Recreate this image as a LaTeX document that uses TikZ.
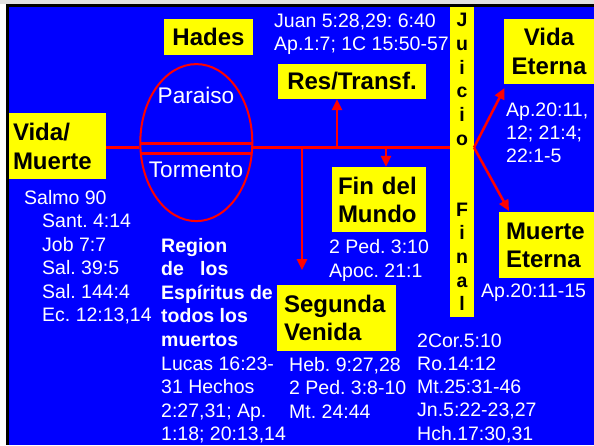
\documentclass[tikz,border=0pt]{standalone}
\usepackage{fontspec}
\setmainfont{Liberation Sans}
\usetikzlibrary{arrows.meta,shapes.geometric}
\definecolor{bgblue}{RGB}{0,0,255}
\definecolor{byellow}{RGB}{255,255,0}
\definecolor{bred}{RGB}{255,0,0}
\newcommand\mystk[1]{\begin{tabular}[t]{@{}l@{}}#1\end{tabular}}
\frenchspacing
\begin{document}
\begin{tikzpicture}[x=1pt,y=-1pt,
  ybox/.style={fill=byellow, inner ysep=0pt, text=black},
  wtxt/.style={text=white, inner sep=0pt, anchor=base west},
  redline/.style={draw=bred, line width=2.5pt},
  arr/.style={redline, -{Triangle[length=11pt,width=10pt]}},
]
\useasboundingbox (0,0) rectangle (594,445);
% background
\fill[white] (0,0) rectangle (594,445);
\fill[black!12] (0,0) rectangle (594,4);
\fill[black] (6,4) rectangle (594,445);
\fill[bgblue] (9,7) rectangle (594,445);

% Hades ellipse
\node[draw=bred, line width=2pt, ellipse, minimum width=112pt, minimum height=157pt, inner sep=0pt] (ell) at (196.3,142.6) {};
\begin{scope}
  \clip (196.3,142.6) ellipse [x radius=56, y radius=78.5];
  \draw[bred, line width=3pt] (130,143) -- (262,143);
  \draw[bred, line width=3pt] (130,153) -- (262,153);
\end{scope}
\node[text=white, font=\fontsize{22.6}{27}\selectfont, anchor=base, inner sep=0pt] (par) at (196,103) {Paraiso};
\node[text=white, font=\fontsize{22.6}{27}\selectfont, anchor=base, inner sep=0pt] (tor) at (196,177) {Tormento};

% yellow boxes
\node[ybox, minimum height=66pt, inner xsep=4pt, text width=89pt, align=left, font=\fontsize{24}{29}\selectfont\bfseries] (vm) at (57.5,146) {Vida/\\Muerte};
\node[ybox, minimum width=89pt, minimum height=36pt, inner xsep=0pt, font=\fontsize{24}{29}\selectfont\bfseries] (hades) at (208.5,37) {Hades};
\node[ybox, minimum width=148pt, minimum height=35pt, inner xsep=0pt, font=\fontsize{24}{29}\selectfont\bfseries] (res) at (352,81.5) {Res/Transf.};
\node[ybox, minimum height=65pt, inner xsep=6pt, text width=82pt, align=left, font=\fontsize{24}{28}\selectfont\bfseries] (fin) at (379,199.5) {Fin del\\Mundo};
\node[ybox, minimum height=66pt, inner xsep=7pt, text width=105pt, align=left, font=\fontsize{24}{28.3}\selectfont\bfseries] (seg) at (336.5,318) {Segunda\\Venida};
\node[ybox, minimum width=90pt, minimum height=65pt, inner xsep=0pt, align=center, font=\fontsize{24}{29}\selectfont\bfseries] (ve) at (549,51.5) {Vida\\Eterna};
\node[ybox, minimum height=66pt, inner xsep=7pt, text width=81pt, align=left, font=\fontsize{24}{28}\selectfont\bfseries] (me) at (546.5,245) {Muerte\\Eterna};
\node[ybox, minimum width=24pt, minimum height=310pt, inner xsep=0pt, align=center, font=\fontsize{19.5}{23.67}\selectfont\bfseries] (jf) at (462,162) {J\\u\\i\\c\\i\\o\\\mbox{}\\\mbox{}\\F\\i\\n\\a\\l};

% connectors
\coordinate (ml) at (0,147.5);
\draw[redline] (vm.east |- ml) -- (ell.west |- ml);
\draw[redline] (ell.east |- ml) -- (jf.west |- ml);
\coordinate (b1) at (337,147.5);
\coordinate (b2) at (386,147.5);
\coordinate (b3) at (302,147.5);
\coordinate (b3e) at (302,270);
\coordinate (jo) at (474,147.5);
\coordinate (vetip) at (504.5,88);
\coordinate (metip) at (509,211);
\draw[arr] (b1) -- (b1 |- res.south);
\draw[arr] (b2) -- (b2 |- fin.north);
\draw[arr] (b3) -- (b3e);
\draw[arr] (jo) -- (vetip);
\draw[arr] (jo) -- (metip);

% white texts
\node[wtxt, font=\fontsize{19.5}{23}\selectfont] (juan) at (274,27) {\mystk{Juan 5:28,29: 6:40\\Ap.1:7; 1C 15:50-57}};
\node[wtxt, font=\fontsize{19.5}{23}\selectfont] (ap1) at (506,116) {\mystk{Ap.20:11,\\12; 21:4;\\22:1-5}};
\node[wtxt, font=\fontsize{19.5}{23}\selectfont] (ap2) at (481,297) {Ap.20:11-15};
\node[wtxt, font=\fontsize{19.5}{24}\selectfont] (ped) at (329,253) {\mystk{2 Ped. 3:10\\Apoc. 21:1}};
\node[wtxt, font=\fontsize{19.5}{23.5}\selectfont] (heb) at (289,371) {\mystk{Heb. 9:27,28\\2 Ped. 3:8-10\\Mt. 24:44}};
\node[wtxt, font=\fontsize{19.5}{23.3}\selectfont] (cor) at (417,347) {\mystk{2Cor.5:10\\Ro.14:12\\Mt.25:31-46\\Jn.5:22-23,27\\Hch.17:30,31}};
\node[wtxt, font=\fontsize{19.5}{23.6}\selectfont] (salmo) at (24,204) {Salmo 90};
\node[wtxt, font=\fontsize{19.5}{23.6}\selectfont] (sant) at (42,227.5) {\mystk{Sant. 4:14\\Job 7:7\\Sal. 39:5\\Sal. 144:4\\Ec. 12:13,14}};
\node[wtxt, font=\fontsize{19.5}{23.6}\selectfont] (reg) at (161,252) {\mystk{\textbf{Region}\\\textbf{de\ \ \ los}\\\textbf{Espíritus de}\\\textbf{todos los}\\\textbf{muertos}\\Lucas 16:23-\\31 Hechos\\2:27,31; Ap.\\1:18; 20:13,14}};
\end{tikzpicture}
\end{document}
